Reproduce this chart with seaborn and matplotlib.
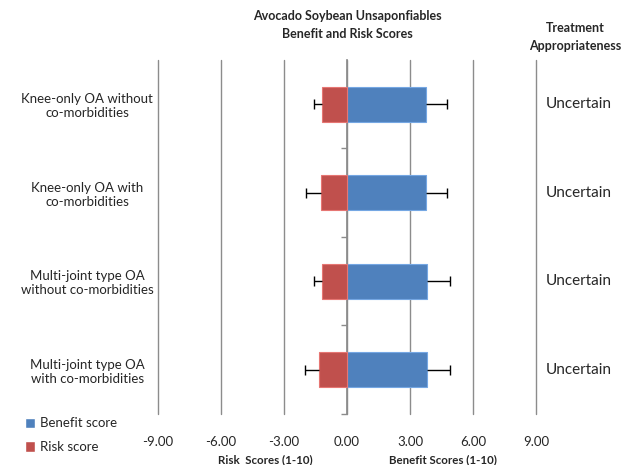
import matplotlib
matplotlib.use("Agg")
import matplotlib.pyplot as plt
import seaborn as sns
import pandas as pd
import numpy as np
from matplotlib.patches import Patch

categories = ["Knee-only OA without\nco-morbidities",
              "Knee-only OA with\nco-morbidities",
              "Multi-joint type OA\nwithout co-morbidities",
              "Multi-joint type OA\nwith co-morbidities"]
benefit = [3.76, 3.76, 3.81, 3.81]
benefit_err = [1.02, 1.02, 1.09, 1.09]
risk = [-1.20, -1.25, -1.20, -1.35]
risk_err = [0.39, 0.69, 0.39, 0.67]
appropriateness = ["Uncertain", "Uncertain", "Uncertain", "Uncertain"]
xticks = [-9, -6, -3, 0, 3, 6, 9]

BLUE = "#4F81BD"
RED = "#C0504D"

sns.set_theme(style="white")
plt.rcParams["font.family"] = ["Lato", "DejaVu Sans"]

df = pd.DataFrame({
    "category": categories * 2,
    "value": benefit + risk,
    "series": ["Benefit score"] * 4 + ["Risk score"] * 4,
})

fig = plt.figure(figsize=(6.32, 4.65), dpi=100)
ax = fig.add_axes([0.25, 0.1097, 0.598, 0.7613])

sns.barplot(data=df, y="category", x="value", hue="series", orient="h",
            palette={"Benefit score": BLUE, "Risk score": RED}, saturation=1,
            dodge=False, width=0.4, errorbar=None, ax=ax, legend=False,
            linewidth=0.8, zorder=3)
for p in ax.patches:
    fc = p.get_facecolor()
    p.set_edgecolor((min(fc[0] + 0.15, 1), min(fc[1] + 0.15, 1), min(fc[2] + 0.15, 1), 1))

pos = np.arange(len(categories))
_, caps_b, _ = ax.errorbar(benefit, pos, xerr=[np.zeros(4), benefit_err], fmt="none",
                           ecolor="black", elinewidth=1, capsize=3.5, capthick=1, zorder=4)
caps_b[0].set_visible(False)
_, caps_r, _ = ax.errorbar(risk, pos, xerr=[risk_err, np.zeros(4)], fmt="none",
                           ecolor="black", elinewidth=1, capsize=3.5, capthick=1, zorder=4)
caps_r[1].set_visible(False)

ax.set_xlim(-9, 9)
ax.set_ylim(3.5, -0.5)
ax.set_xticks(xticks)
ax.set_xticklabels([f"{v:.2f}" for v in xticks], fontsize=9.5)
ax.tick_params(axis="x", length=0, pad=16)
ax.grid(axis="x", color="#8c8c8c", linewidth=1, zorder=0)
ax.grid(axis="y", visible=False)
for gl in ax.get_xgridlines():
    gl.set_clip_on(False)
for s in ["top", "right", "bottom"]:
    ax.spines[s].set_visible(False)
ax.spines["left"].set_position(("data", 0))
ax.spines["left"].set_color("#8c8c8c")
ax.spines["left"].set_zorder(0)
ax.set_yticks([0.5, 1.5, 2.5, 3.5])
ax.set_yticklabels([])
ax.tick_params(axis="y", length=4, color="#8c8c8c", width=1, left=True)
ax.set_xlabel("")
ax.set_ylabel("")

sec = ax.secondary_yaxis(0)
sec.set_yticks(pos)
sec.set_yticklabels(categories, fontsize=9.5, ha="center", multialignment="center")
sec.tick_params(length=0, pad=51)
sec.spines["left"].set_visible(False)

for i, t in enumerate(appropriateness):
    ax.text(1.025, pos[i], t, transform=ax.get_yaxis_transform(), fontsize=11,
            va="center", ha="left")

fig.text(347 / 632, 1 - 25 / 465, "Avocado Soybean Unsaponfiables\nBenefit and Risk Scores",
         ha="center", va="center", fontsize=9, fontweight="bold", linespacing=1.5)
fig.text(575 / 632, 1 - 37 / 465, "Treatment\nAppropriateness",
         ha="center", va="center", fontsize=9, fontweight="bold", linespacing=1.5)
fig.text(265 / 632, 1 - 460 / 465, "Risk  Scores (1-10)", ha="center", va="center",
         fontsize=8.3, fontweight="bold")
fig.text(443 / 632, 1 - 460 / 465, "Benefit Scores (1-10)", ha="center", va="center",
         fontsize=8.3, fontweight="bold")

handles = [Patch(facecolor=BLUE, label="Benefit score"), Patch(facecolor=RED, label="Risk score")]
fig.legend(handles=handles, loc="lower left", bbox_to_anchor=(0.02, 0.0), frameon=False,
           fontsize=9.5, handlelength=0.8, handleheight=0.8, handletextpad=0.4,
           labelspacing=0.9)

fig.savefig("out.png", dpi=100)
